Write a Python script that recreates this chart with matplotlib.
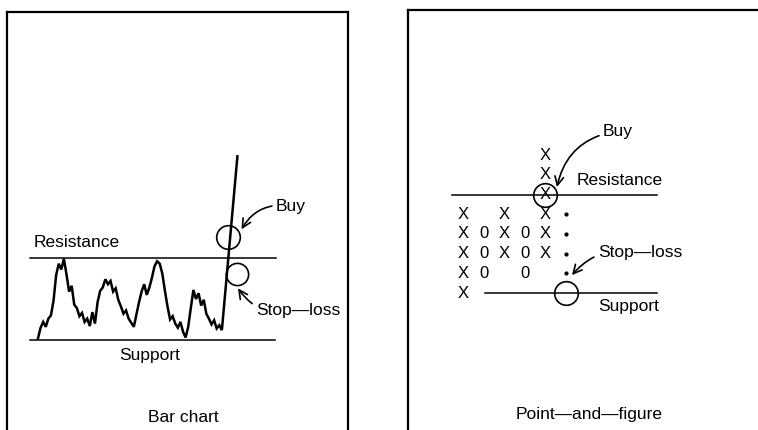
import matplotlib.pyplot as plt

plt.rcParams['font.family'] = ['Liberation Sans', 'DejaVu Sans']

# bar chart: daily closes, support = 0, resistance = 10
days = list(range(72)) + [77]
price = [0.2, 1.5, 2.2, 1.6, 2.6, 3.0, 4.8, 7.9, 9.3, 8.6, 9.9, 8.0, 5.9, 6.6, 4.3, 3.9,
         2.9, 3.3, 2.2, 2.6, 1.7, 3.4, 2.0, 4.6, 6.0, 6.4, 7.4, 6.8, 7.2, 5.9, 6.3, 4.9,
         4.1, 3.2, 3.6, 2.6, 2.1, 1.6, 3.1, 4.6, 5.9, 6.8, 5.5, 6.4, 7.6, 9.0, 9.6, 9.3,
         8.1, 6.0, 4.1, 2.5, 2.9, 2.0, 1.5, 2.2, 1.0, 0.3, 1.6, 3.9, 6.1, 5.0, 5.7, 4.2,
         4.9, 3.2, 2.6, 1.9, 2.4, 1.4, 1.8, 1.2, 22.4]
bar_support = 0
bar_resist = 10

# point-and-figure columns (row index, support = 0)
pf_marks = ['X', '0', 'X', '0', 'X']
pf_low = [0, 1, 2, 1, 2]
pf_high = [4, 3, 4, 3, 7]
dot_rows = [1, 2, 3, 4]
pf_support = 0
pf_resist = 5

W, H = 758, 430
fig = plt.figure(figsize=(W / 100, H / 100), dpi=100)

def place(x0, y0, x1, y1):
    return [x0 / W, 1 - y1 / H, (x1 - x0) / W, (y1 - y0) / H]

fs = 12.5
kw = dict(fontsize=fs, color='black')
arr = dict(arrowstyle='->,head_length=0.5,head_width=0.25', color='black', lw=1.2,
           shrinkA=1, shrinkB=0)

# ---- left panel
axL = fig.add_axes(place(7, 12, 348, 440))
axL.set_xlim(-11.97, 119.7)
axL.set_ylim(-12.2, 40.0)
for s in ['left', 'top', 'right']:
    axL.spines[s].set_linewidth(1.6)
axL.spines['bottom'].set_visible(False)
axL.set_xticks([]); axL.set_yticks([])

axL.plot(days, price, color='black', lw=1.8, solid_joinstyle='miter')
axL.plot([-3.1, 91.9], [bar_resist, bar_resist], color='black', lw=1.1)
axL.plot([-3.1, 91.5], [bar_support, bar_support], color='black', lw=1.1)
axL.plot([73.4], [12.56], 'o', ms=17, mfc='none', mec='black', mew=1.2)
axL.plot([76.8], [8.05], 'o', ms=16, mfc='none', mec='black', mew=1.2)

axL.text(-1.54, 11.83, 'Resistance', va='center', ha='left', **kw)
axL.text(43.2, -1.95, 'Support', va='center', ha='center', **kw)
axL.text(56, -9.5, 'Bar chart', va='center', ha='center', **kw)
axL.annotate('Buy', xy=(78.6, 13.5), xytext=(91.9, 16.3), va='center', ha='left',
             arrowprops=dict(connectionstyle='arc3,rad=0.35', **arr), **kw)
axL.annotate('Stop—loss', xy=(77.2, 6.3), xytext=(84.2, 3.54), va='center', ha='left',
             arrowprops=dict(connectionstyle='arc3,rad=-0.35', **arr), **kw)

# ---- right panel
axR = fig.add_axes(place(408, 10, 780, 440))
axR.set_xlim(-2.67, 15.39)
axR.set_ylim(-7.46, 14.37)
for s in ['left', 'top', 'right']:
    axR.spines[s].set_linewidth(1.6)
axR.spines['bottom'].set_visible(False)
axR.set_xticks([]); axR.set_yticks([])

for c, (m, lo, hi) in enumerate(zip(pf_marks, pf_low, pf_high)):
    for r in range(lo, hi + 1):
        axR.text(c, r, m, ha='center', va='center', fontsize=12, color='black')
axR.plot([5] * len(dot_rows), dot_rows, 'o', ms=2.0, color='black')

axR.plot([-0.53, 9.42], [pf_resist, pf_resist], color='black', lw=1.1)
axR.plot([1.07, 9.42], [pf_support, pf_support], color='black', lw=1.1)
axR.plot([4], [pf_resist], 'o', ms=17, mfc='none', mec='black', mew=1.2)
axR.plot([5], [pf_support], 'o', ms=17, mfc='none', mec='black', mew=1.2)

axR.text(5.53, 5.69, 'Resistance', va='center', ha='left', **kw)
axR.text(6.55, -0.66, 'Support', va='center', ha='left', **kw)
axR.text(6.12, -6.19, 'Point—and—figure', va='center', ha='center', **kw)
axR.annotate('Buy', xy=(4.56, 5.38), xytext=(6.8, 8.22), va='center', ha='left',
             arrowprops=dict(connectionstyle='arc3,rad=0.35', **arr), **kw)
axR.annotate('Stop—loss', xy=(5.29, 0.91), xytext=(6.55, 2.08), va='center', ha='left',
             arrowprops=dict(connectionstyle='arc3,rad=0.3', **arr), **kw)

fig.savefig('out.png', dpi=100)
